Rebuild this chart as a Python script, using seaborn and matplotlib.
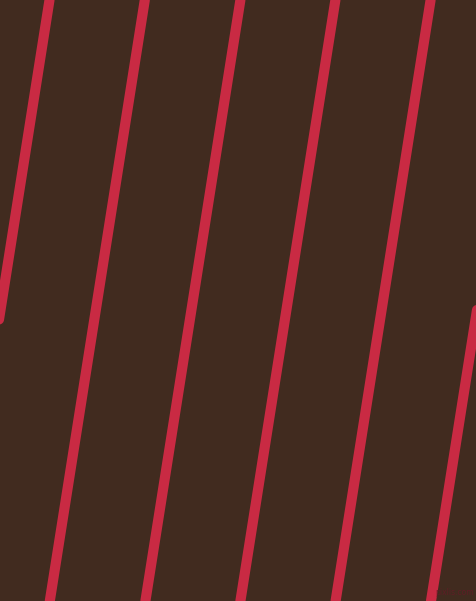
import matplotlib
matplotlib.use("Agg")
import matplotlib.pyplot as plt
import seaborn as sns
import pandas as pd

# Stripe data: x position of each stripe's centre line at the top (y=0) and bottom (y=601)
stripe_ids = [0, 1, 2, 3, 4, 5]
x_top = [49.5, 144.8, 240.4, 335.4, 430.6, 526.0]
x_bottom = [-45.5, 49.8, 145.4, 240.4, 335.6, 431.0]
y_top = 0
y_bottom = 601

bg_color = "#412B1F"
stripe_color = "#C92A43"
watermark = "pixlis.com"

rows = []
for i, xt, xb in zip(stripe_ids, x_top, x_bottom):
    rows.append({"stripe": i, "x": xt, "y": y_top})
    rows.append({"stripe": i, "x": xb, "y": y_bottom})
df = pd.DataFrame(rows)

sns.set_theme(style="white")
fig = plt.figure(figsize=(4.76, 6.01), dpi=100)
fig.patch.set_facecolor(bg_color)
ax = fig.add_axes([0, 0, 1, 1])
ax.set_facecolor(bg_color)

sns.lineplot(data=df, x="x", y="y", units="stripe", estimator=None,
             color=stripe_color, linewidth=7.3, sort=False, ax=ax, legend=False)

ax.set_xlim(0, 476)
ax.set_ylim(601, 0)
ax.axis("off")

ax.text(474, 597, watermark, ha="right", va="bottom", fontsize=5.5,
        color="#5E1D25", family="DejaVu Sans")

fig.savefig("out.png", dpi=100, facecolor=bg_color)
